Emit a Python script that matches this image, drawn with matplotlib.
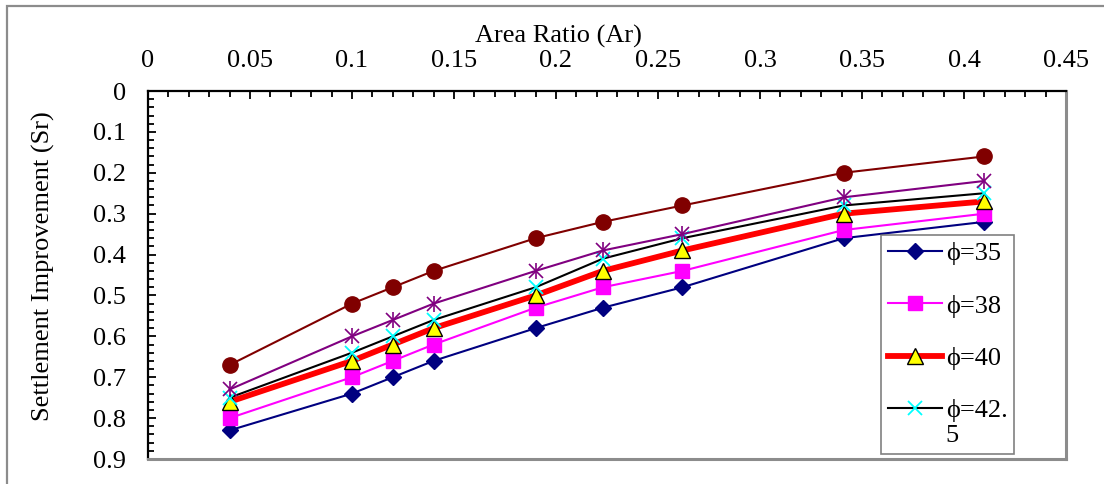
import matplotlib
matplotlib.use("Agg")
import matplotlib.pyplot as plt
from matplotlib.patches import Rectangle
from matplotlib.ticker import MultipleLocator, FixedLocator, FuncFormatter

plt.rcParams['font.family'] = ['Liberation Serif', 'DejaVu Serif']

# ---- data ----
area_ratio = [0.04, 0.10, 0.12, 0.14, 0.19, 0.223, 0.262, 0.341, 0.41]
sr_phi35 = [0.83, 0.74, 0.70, 0.66, 0.58, 0.53, 0.48, 0.36, 0.32]
sr_phi38 = [0.80, 0.70, 0.66, 0.62, 0.53, 0.48, 0.44, 0.34, 0.30]
sr_phi40 = [0.76, 0.66, 0.62, 0.58, 0.50, 0.44, 0.39, 0.30, 0.27]
sr_phi425 = [0.75, 0.64, 0.60, 0.56, 0.48, 0.41, 0.36, 0.28, 0.25]
sr_series5 = [0.73, 0.60, 0.56, 0.52, 0.44, 0.39, 0.35, 0.26, 0.22]
sr_series6 = [0.67, 0.52, 0.48, 0.44, 0.36, 0.32, 0.28, 0.20, 0.16]
legend_labels = ["\u03d5=35", "\u03d5=38", "\u03d5=40", "\u03d5=42.\n5"]
x_ticks = [0, 0.05, 0.1, 0.15, 0.2, 0.25, 0.3, 0.35, 0.4, 0.45]
y_ticks = [0, 0.1, 0.2, 0.3, 0.4, 0.5, 0.6, 0.7, 0.8, 0.9]

W, H = 1104, 484
fig = plt.figure(figsize=(W / 100, H / 100), dpi=100)
L, R, T, B = 148, 1066, 91, 459
ax = fig.add_axes([L / W, 1 - B / H, (R - L) / W, (B - T) / H])

FS = 19

h1, = ax.plot(area_ratio, sr_phi35, color='#000080', lw=1.5, marker='D', ms=8,
              mfc='#000080', mec='#000080', zorder=3)
h2, = ax.plot(area_ratio, sr_phi38, color='#FF00FF', lw=1.5, marker='s', ms=10,
              mfc='#FF00FF', mec='#FF00FF', zorder=4)
h3, = ax.plot(area_ratio, sr_phi40, color='#FF0000', lw=4.2, marker='^', ms=11,
              mfc='#FFFF00', mec='#000000', mew=1.0, zorder=5)
h4, = ax.plot(area_ratio, sr_phi425, color='#000000', lw=1.5, marker='x', ms=10,
              mec='#00FFFF', mew=1.3, zorder=6)
ax.plot(area_ratio, sr_series5, color='#800080', lw=1.5, marker='x', ms=10,
        mec='#800080', mew=1.2, zorder=7)
ax.plot(area_ratio, sr_series5, color='none', lw=0, marker='|', ms=12,
        mec='#800080', mew=1.2, zorder=7)
ax.plot(area_ratio, sr_series6, color='#800000', lw=1.5, marker='o', ms=11,
        mfc='#800000', mec='#800000', zorder=8)

ax.set_xlim(0, 0.45)
ax.set_ylim(0.9, 0)
ax.xaxis.set_major_locator(FixedLocator(x_ticks))
ax.yaxis.set_major_locator(FixedLocator(y_ticks))
ax.xaxis.set_minor_locator(MultipleLocator(0.01))
ax.yaxis.set_minor_locator(MultipleLocator(0.02))
fmt = FuncFormatter(lambda v, p: ('%g' % round(v, 3)))
ax.xaxis.set_major_formatter(fmt)
ax.yaxis.set_major_formatter(fmt)
ax.xaxis.tick_top()
ax.tick_params(axis='x', which='both', direction='in', top=True, bottom=False,
               labeltop=True, labelbottom=False, labelsize=FS, pad=14)
ax.tick_params(axis='y', which='both', direction='in', left=True, right=False,
               labelsize=FS, pad=16)
ax.tick_params(which='major', length=6, width=1.3, color='black')
ax.tick_params(which='minor', length=4, width=1.3, color='black')

for s in ['left', 'top']:
    ax.spines[s].set_color('black')
    ax.spines[s].set_linewidth(1.6)
for s in ['right', 'bottom']:
    ax.spines[s].set_color('#8c8c8c')
    ax.spines[s].set_linewidth(2.2)

fig.text(558 / W, 1 - 36 / H, "Area Ratio (Ar)", ha='center', va='center', fontsize=FS)
fig.text(43 / W, 1 - 266 / H, "Settlement Improvement (Sr)", ha='center', va='center',
         rotation=90, fontsize=FS)

leg = ax.legend([h1, h2, h3, h4], legend_labels, loc='upper left',
                bbox_to_anchor=(881 / W, 1 - 235 / H), bbox_transform=fig.transFigure,
                fontsize=FS, frameon=True, fancybox=False, handlelength=2.05,
                handletextpad=0.15, labelspacing=1.1, borderpad=0.25,
                borderaxespad=0, markerscale=1.0)
leg.get_frame().set_edgecolor('#606060')
leg.get_frame().set_linewidth(1.2)
leg.set_zorder(20)
# align the handle of the wrapped last entry with its first text line
try:
    column = leg._legend_handle_box.get_children()[0]
    column.get_children()[3].align = "top"
except Exception:
    pass

outer = Rectangle((7 / W, -0.2), 1.5, 1.2 - 6 / H, transform=fig.transFigure,
                  fill=False, edgecolor='#8c8c8c', linewidth=1.6, clip_on=False)
fig.add_artist(outer)

fig.savefig("out.png", dpi=100)
